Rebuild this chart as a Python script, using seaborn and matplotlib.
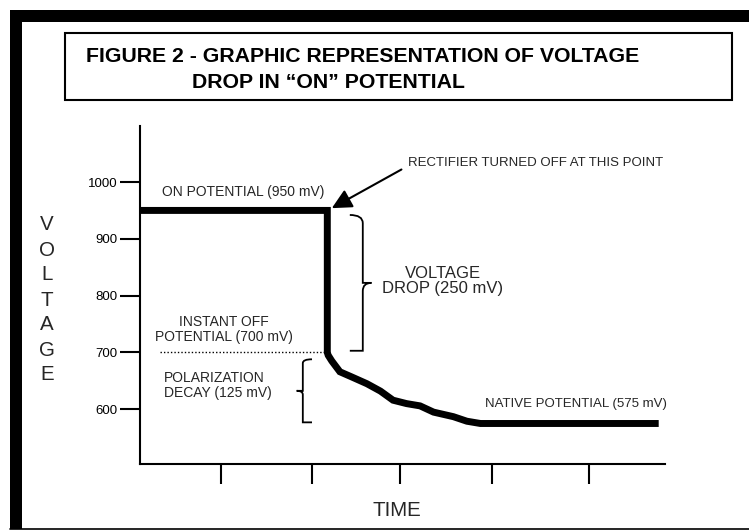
import numpy as np
import pandas as pd
import matplotlib
matplotlib.use("Agg")
import matplotlib.pyplot as plt
from matplotlib.patches import Rectangle
from matplotlib.path import Path
from matplotlib.patches import PathPatch
import seaborn as sns

# values (time in arbitrary units, voltage in mV)
on_potential = 950
off_potential = 700
native_potential = 575
t_off = 2.08
decay_time = [2.09, 2.13, 2.22, 2.35, 2.52, 2.67, 2.81, 2.96, 3.11, 3.26, 3.48, 3.63, 3.78, 3.92, 5.76]
decay_volt = [695, 685, 666, 657, 645, 632, 616, 610, 606, 595, 587, 579, 575, 575, 575]
y_ticks = [1000, 900, 800, 700, 600]
x_ticks = [0.9, 1.91, 2.89, 3.91, 4.99]

times = [0, t_off, t_off] + decay_time
volts = [on_potential, on_potential, off_potential] + decay_volt
df = pd.DataFrame({"time": times, "voltage": volts})

sns.set_theme(style="white")
plt.rcParams["font.family"] = ["Liberation Sans", "DejaVu Sans"]

fig = plt.figure(figsize=(7.49, 5.31), dpi=100)
W, H = 749, 531


def fr(x0, y0, w, h):
    # pixel box (top-left origin) -> figure fraction rect
    return [x0 / W, 1 - (y0 + h) / H, w / W, h / H]


ax = fig.add_axes(fr(140, 126, 525, 338))
sns.lineplot(data=df, x="time", y="voltage", ax=ax, sort=False, estimator=None,
             color="black", lw=5)
ax.lines[0].set_solid_joinstyle("miter")
ax.lines[0].set_solid_capstyle("butt")

ax.set_xlim(0, 5.83)
ax.set_ylim(503.7, 1098.6)
ax.set_xticks(x_ticks)
ax.set_xticklabels([])
ax.set_yticks(y_ticks)
ax.set_yticklabels([str(v) for v in y_ticks], fontsize=9.5, color="black")
ax.tick_params(axis="both", direction="out", length=14.5, width=1.5, color="black", pad=2,
               left=True, bottom=True)
for s in ["top", "right"]:
    ax.spines[s].set_visible(False)
for s in ["left", "bottom"]:
    ax.spines[s].set_color("black")
    ax.spines[s].set_linewidth(1.5)
ax.set_xlabel("")
ax.set_ylabel("")
ax.set_facecolor("none")
ax.grid(False)

# dotted line at instant off
ax.plot([0.22, t_off], [off_potential, off_potential], color="black", lw=1, ls=(0, (1, 1.5)))


def brace(ax, x, y0, y1, width, right=True):
    # curly brace between y0 and y1, tip pointing right (or left)
    d = width if right else -width
    ym = (y0 + y1) / 2
    h = abs(y1 - y0)
    sgn = 1 if y1 > y0 else -1
    verts = [
        (x, y0), (x + d * 0.6, y0), (x + d * 0.6, y0 + sgn * h * 0.06), (x + d * 0.6, y0 + sgn * h * 0.12),
        (x + d * 0.6, ym - sgn * h * 0.06), (x + d * 0.6, ym), (x + d, ym),
        (x + d * 0.6, ym), (x + d * 0.6, ym + sgn * h * 0.06), (x + d * 0.6, ym + sgn * h * 0.12),
        (x + d * 0.6, y1 - sgn * h * 0.06), (x + d * 0.6, y1), (x, y1),
    ]
    codes = [Path.MOVETO, Path.CURVE3, Path.CURVE3, Path.LINETO,
             Path.CURVE3, Path.CURVE3, Path.LINETO,
             Path.CURVE3, Path.CURVE3, Path.LINETO,
             Path.CURVE3, Path.CURVE3, Path.LINETO]
    ax.add_patch(PathPatch(Path(verts, codes), fill=False, lw=1.3, color="black",
                           clip_on=False))


brace(ax, t_off + 0.25, on_potential - 8, off_potential + 3, 0.24, right=True)
brace(ax, t_off - 0.17, off_potential - 12, native_potential + 2, 0.17, right=False)

fs = 9.5
ax.text(0.24, 983, "ON POTENTIAL (950 mV)", fontsize=10, va="center", ha="left")
ax.annotate("RECTIFIER TURNED OFF AT THIS POINT", xy=(t_off + 0.05, on_potential + 4),
            xytext=(2.98, 1033), fontsize=fs, va="center", ha="left",
            arrowprops=dict(arrowstyle="-|>", color="black", lw=1.5, mutation_scale=30,
                            shrinkA=3, shrinkB=0, relpos=(0, 0.3)))
ax.text(3.36, 826, "VOLTAGE\nDROP (250 mV)", fontsize=12, va="center", ha="center",
        linespacing=1.0, multialignment="center")
ax.text(0.93, 740, "INSTANT OFF\nPOTENTIAL (700 mV)", fontsize=10, va="center", ha="center",
        linespacing=1.05, multialignment="center")
ax.text(0.27, 642, "POLARIZATION\nDECAY (125 mV)", fontsize=10, va="center", ha="left",
        linespacing=1.05)
ax.text(3.83, 610, "NATIVE POTENTIAL (575 mV)", fontsize=fs, va="center", ha="left")

# axis labels
fig.text(397 / W, 1 - 510 / H, "TIME", fontsize=14.8, ha="center", va="center")
fig.text(47 / W, 1 - 300 / H, "V\nO\nL\nT\nA\nG\nE", fontsize=14.8, ha="center", va="center",
         linespacing=1.4)

# page frame
fig.add_artist(Rectangle((10 / W, 1 - 22 / H), 1, 12 / H, transform=fig.transFigure,
                         color="black", lw=0))
fig.add_artist(Rectangle((10 / W, 1 - 529 / H), 12 / W, 519 / H, transform=fig.transFigure,
                         color="black", lw=0))
fig.add_artist(plt.Line2D([10 / W, 1], [1 - 529 / H, 1 - 529 / H], transform=fig.transFigure,
                          color="black", lw=1.2))

# title box
fig.add_artist(Rectangle((65 / W, 1 - 100 / H), 667 / W, 67 / H, transform=fig.transFigure,
                         facecolor="white", edgecolor="black", lw=1.5))
t1 = fig.text(86 / W, 1 - 57 / H, "FIGURE 2 - GRAPHIC REPRESENTATION OF VOLTAGE",
              fontsize=15.35, fontweight="bold", color="black", ha="left", va="center")
t2 = fig.text(192 / W, 1 - 82 / H, "DROP IN \u201cON\u201d POTENTIAL",
              fontsize=15.35, fontweight="bold", color="black", ha="left", va="center")

fig.savefig("out.png", dpi=100, facecolor="white")
